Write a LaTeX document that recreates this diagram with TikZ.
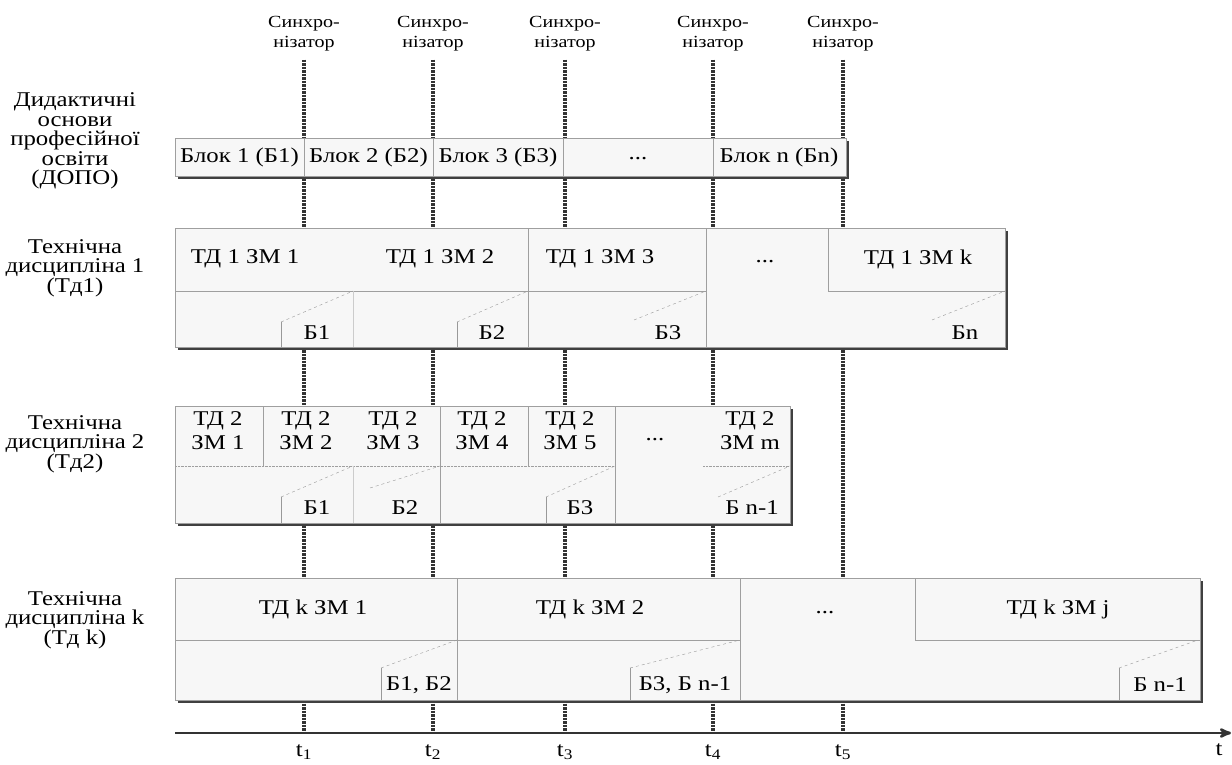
\documentclass[tikz,border=0pt]{standalone}
\usepackage{fontspec}
\setmainfont[FakeStretch=1.18]{Liberation Serif}
\usetikzlibrary{arrows}

\begin{document}
\begin{tikzpicture}[x=1pt,y=-1pt,>=stealth',
    cell/.style={draw=gray!75,fill=gray!6},
    shade/.style={fill=black!75},
    sync/.style={draw=black!80,line width=3.4pt,dash pattern=on 2.6pt off 0.9pt},
    tabline/.style={draw=gray!80},
    tabcut/.style={draw=gray!80,dashed},
    txt/.style={font=\fontsize{21}{19.5}\selectfont,align=center,inner sep=0pt},
    twoline/.style={font=\fontsize{21}{24}\selectfont,align=center,inner sep=0pt},
    small/.style={font=\fontsize{17}{20}\selectfont,align=center,inner sep=0pt}]
    \useasboundingbox (0,0) rectangle (1232,765);

    % synchronizers and time axis
    \node[small](sync1)at(304,34){Синхро-\\нізатор};
    \node[small](sync2)at(433,34){Синхро-\\нізатор};
    \node[small](sync3)at(565,34){Синхро-\\нізатор};
    \node[small](sync4)at(713,34){Синхро-\\нізатор};
    \node[small](sync5)at(843,34){Синхро-\\нізатор};
    \coordinate(a1)at(304,733);
    \coordinate(a2)at(433,733);
    \coordinate(a3)at(565,733);
    \coordinate(a4)at(713,733);
    \coordinate(a5)at(843,733);
    \coordinate(a0)at(175,733);
    \coordinate(aend)at(1231,733);
    \path[sync,shorten <=8pt](sync1) edge (a1)
        (sync2) edge (a2)
        (sync3) edge (a3)
        (sync4) edge (a4)
        (sync5) edge (a5);
    \draw[->,draw=black!80,line width=2.6pt](a0) -- (aend);
    \node[txt](t1)at(304,752){t\textsubscript{1}};
    \node[txt](t2)at(433,752){t\textsubscript{2}};
    \node[txt](t3)at(565,752){t\textsubscript{3}};
    \node[txt](t4)at(713,752){t\textsubscript{4}};
    \node[txt](t5)at(843,752){t\textsubscript{5}};
    \node[txt](t)at(1219,750){t};

    % row labels
    \node[txt](dopo)at(75,141){Дидактичні\\основи\\професійної\\освіти\\(ДОПО)};
    \node[txt](td1)at(75,268){Технічна\\дисципліна 1\\(Тд1)};
    \node[txt](td2)at(75,444){Технічна\\дисципліна 2\\(Тд2)};
    \node[txt](tdk)at(75,620){Технічна\\дисципліна k\\(Тд k)};

    % ДОПО
    \fill[shade](178,141) rectangle (849,179);
    \draw[cell](175,138) rectangle (846,176);
    \draw[gray!75](304,138) -- (304,176) (433,138) -- (433,176)
        (563,138) -- (563,176) (713,138) -- (713,176);
    \node[txt](blk1)at(239.5,157){Блок 1 (Б1)};
    \node[txt](blk2)at(368.5,157){Блок 2 (Б2)};
    \node[txt](blk3)at(498,157){Блок 3 (Б3)};
    \node[txt](blkd)at(638,159){...};
    \node[txt](blkn)at(779,157){Блок n (Бn)};

    % Тд1
    \fill[shade](178,231) rectangle (1008,350);
    \draw[cell](175,228) rectangle (1005,347);
    \draw[cell](175,228) rectangle (528,291);
    \draw[cell](528,228) rectangle (706,347);
    \draw[cell](828,228) rectangle (1005,291);
    \draw[cell](528,228) rectangle (706,291);
    \draw[gray!40](353,291) -- (353,347);
    \draw[tabline](281,347) -- (281,322);
    \draw[tabcut](281,322) -- (353,291);
    \draw[tabline](457,347) -- (457,322);
    \draw[tabcut](457,322) -- (528,291);
    \draw[tabcut](634,320) -- (706,291);
    \draw[tabcut](932,320) -- (1005,291);
    \node[txt](z11)at(245,259){ТД 1 ЗМ 1};
    \node[txt](z12)at(440,259){ТД 1 ЗМ 2};
    \node[txt](z13)at(600,259){ТД 1 ЗМ 3};
    \node[txt](z1d)at(765,262){...};
    \node[txt](z1k)at(918,259){ТД 1 ЗМ k};
    \node[txt](b11)at(317,333){Б1};
    \node[txt](b12)at(492,333){Б2};
    \node[txt](b13)at(668,333){Б3};
    \node[txt](b1n)at(965,333){Бn};

    % Тд2
    \fill[shade](178,409) rectangle (793,526);
    \draw[cell](175,406) rectangle (790,523);
    \draw[gray!75](263,406) -- (263,466) (528,406) -- (528,466)
        (440,406) -- (440,523) (615,406) -- (615,523);
    \draw[gray!75,densely dotted](175,466) -- (615,466) (703,466) -- (790,466);
    \draw[gray!40](353,466) -- (353,523);
    \draw[tabline](281,523) -- (281,497);
    \draw[tabcut](281,497) -- (353,466);
    \draw[tabcut](370,488) -- (440,466);
    \draw[tabline](546,523) -- (546,497);
    \draw[tabcut](546,497) -- (615,466);
    \draw[tabcut](718,497) -- (790,466);
    \node[twoline](z21)at(218,431){ТД 2\\ЗМ 1};
    \node[twoline](z22)at(306,431){ТД 2\\ЗМ 2};
    \node[twoline](z23)at(393,431){ТД 2\\ЗМ 3};
    \node[twoline](z24)at(482,431){ТД 2\\ЗМ 4};
    \node[twoline](z25)at(570,431){ТД 2\\ЗМ 5};
    \node[txt](z2d)at(655,440){...};
    \node[twoline](z2m)at(750,431){ТД 2\\ЗМ m};
    \node[txt](b21)at(317,508){Б1};
    \node[txt](b22)at(405,508){Б2};
    \node[txt](b23)at(580,508){Б3};
    \node[txt](b2n)at(752,508){Б n-1};

    % Тд k
    \fill[shade](178,581) rectangle (1203,703);
    \draw[cell](175,578) rectangle (1200,700);
    \draw[cell](175,578) rectangle (457,640);
    \draw[cell](457,578) rectangle (740,640);
    \draw[cell](915,578) rectangle (1200,640);
    \draw[gray!75](457,640) -- (457,700) (740,640) -- (740,700);
    \draw[tabline](381,700) -- (381,668);
    \draw[tabcut](381,668) -- (457,640);
    \draw[tabline](630,700) -- (630,668);
    \draw[tabcut](630,668) -- (740,640);
    \draw[tabline](1119,700) -- (1119,668);
    \draw[tabcut](1119,668) -- (1198,640);
    \node[txt](zk1)at(313,609){ТД k ЗМ 1};
    \node[txt](zk2)at(590,609){ТД k ЗМ 2};
    \node[txt](zkd)at(825,613){...};
    \node[txt](zkj)at(1058,609){ТД k ЗМ j};
    \node[txt](bk1)at(419,685){Б1, Б2};
    \node[txt](bk2)at(685,685){Б3, Б n-1};
    \node[txt](bkn)at(1160,685){Б n-1};
\end{tikzpicture}
\end{document}
